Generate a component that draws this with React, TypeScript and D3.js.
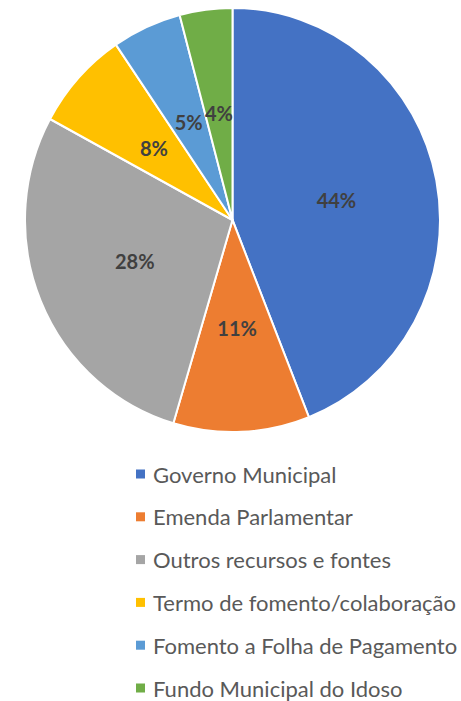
import { useEffect, useRef } from "react";
import * as d3 from "d3";

const categories = [
  "Governo Municipal",
  "Emenda Parlamentar",
  "Outros recursos e fontes",
  "Termo de fomento/colaboração",
  "Fomento a Folha de Pagamento",
  "Fundo Municipal do Idoso",
];
const shares = [44.0, 10.6, 28.3, 7.6, 5.4, 4.1];
const colors = ["#4472C4", "#ED7D31", "#A5A5A5", "#FFC000", "#5B9BD5", "#70AD47"];

type Slice = { name: string; value: number; color: string };

const App = () => {
  const svgRef = useRef<SVGSVGElement>(null);

  useEffect(() => {
    const width = 461;
    const height = 701;
    const cx = 232.5;
    const cy = 220;
    const radius = 207.5;
    // the source image is stretched a little vertically
    const stretch = 1.022;

    const data: Slice[] = categories.map((name, i) => ({
      name,
      value: shares[i],
      color: colors[i],
    }));
    const total = d3.sum(data, (d) => d.value);

    const svg = d3.select(svgRef.current);
    svg.selectAll("*").remove();
    svg.attr("width", width).attr("height", height);

    const pie = d3
      .pie<Slice>()
      .value((d) => d.value)
      .sort(null);
    const arcs = pie(data);

    const arc = d3.arc<d3.PieArcDatum<Slice>>().innerRadius(0).outerRadius(radius);
    const labelArc = d3
      .arc<d3.PieArcDatum<Slice>>()
      .innerRadius(radius * 0.51)
      .outerRadius(radius * 0.51);

    const g = svg
      .append("g")
      .attr("transform", `translate(${cx},${cy}) scale(1,${stretch})`);

    g.selectAll("path")
      .data(arcs)
      .enter()
      .append("path")
      .attr("d", arc)
      .attr("fill", (d) => d.data.color)
      .attr("stroke", "#fff")
      .attr("stroke-width", 2)
      .attr("stroke-linejoin", "round");

    g.selectAll("text")
      .data(arcs)
      .enter()
      .append("text")
      .attr("x", (d) => labelArc.centroid(d)[0])
      .attr("y", (d) => labelArc.centroid(d)[1])
      .attr("text-anchor", "middle")
      .attr("dominant-baseline", "central")
      .attr("font-family", "Lato, 'Open Sans', sans-serif")
      .attr("font-weight", "bold")
      .attr("font-size", 20)
      .attr("fill", "#404040")
      .text((d) => `${Math.round((d.data.value / total) * 100)}%`);

    const legendY = d3
      .scalePoint<string>()
      .domain(categories)
      .range([474, 688]);

    const legend = svg
      .append("g")
      .selectAll("g")
      .data(data)
      .enter()
      .append("g")
      .attr("transform", (d) => `translate(136,${legendY(d.name)})`);

    legend
      .append("rect")
      .attr("x", 0)
      .attr("y", -4.5)
      .attr("width", 9)
      .attr("height", 9)
      .attr("fill", (d) => d.color);

    legend
      .append("text")
      .attr("x", 17)
      .attr("y", 0)
      .attr("dominant-baseline", "central")
      .attr("font-family", "Lato, 'Open Sans', sans-serif")
      .attr("font-size", 22)
      .attr("fill", "#595959")
      .text((d) => d.name);
  }, []);

  return (
    <svg
      ref={svgRef}
      style={{ position: "absolute", left: 0, top: 0, background: "#fff" }}
    />
  );
};

export default App;
